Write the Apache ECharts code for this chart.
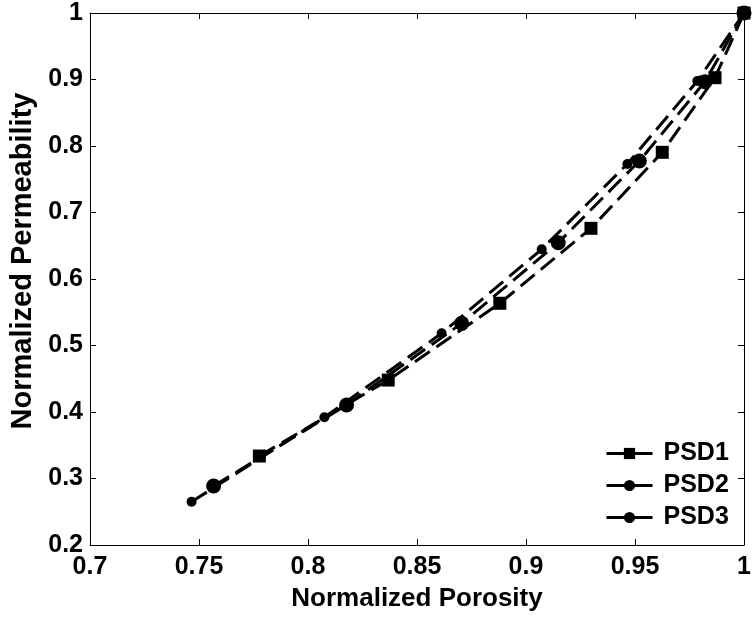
<!DOCTYPE html>
<html>
<head>
<meta charset="utf-8">
<script src="https://cdn.jsdelivr.net/npm/echarts@6/dist/echarts.min.js"></script>
<style>html,body{margin:0;padding:0;background:#fff}#c{width:754px;height:621px}</style>
</head>
<body>
<div id="c"></div>
<script>
var seriesNames = ['PSD1', 'PSD2', 'PSD3'];
var psd1Porosity = [0.7777, 0.8368, 0.8880, 0.9298, 0.9625, 0.9867, 1.0];
var psd1Perm     = [0.3338, 0.4480, 0.5635, 0.6762, 0.7905, 0.9027, 1.0];
var psd2Porosity = [0.7567, 0.8177, 0.8705, 0.9148, 0.9520, 0.9821, 1.0];
var psd2Perm     = [0.2887, 0.4105, 0.5333, 0.6546, 0.7774, 0.8967, 1.0];
var psd3Porosity = [0.7466, 0.8075, 0.8613, 0.9072, 0.9465, 0.9786, 1.0];
var psd3Perm     = [0.2650, 0.3920, 0.5183, 0.6447, 0.7730, 0.8977, 1.0];
var xTicks = [0.7, 0.75, 0.8, 0.85, 0.9, 0.95, 1];
var yTicks = [0.2, 0.3, 0.4, 0.5, 0.6, 0.7, 0.8, 0.9, 1];

function pairs(xs, ys) { return xs.map(function (x, i) { return [x, ys[i]]; }); }

var FONT = 'Liberation Sans, Arial, sans-serif';
var chart = echarts.init(document.getElementById('c'));
var axisCommon = {
  axisLine: { show: true, onZero: false, lineStyle: { color: '#000', width: 1 } },
  axisTick: { show: true, inside: true, length: 6, lineStyle: { color: '#000' } },
  splitLine: { show: false }
};
function lbl(v) { return String(+v.toFixed(2)); }
var option = {
  backgroundColor: '#fff',
  animation: false,
  grid: { left: 90, right: 10, top: 13, bottom: 76 },
  legend: {
    orient: 'vertical',
    left: 600, top: 436,
    itemWidth: 46, itemHeight: 14, itemGap: 7,
    data: seriesNames,
    lineStyle: { type: 'solid', width: 3 },
    textStyle: { fontFamily: FONT, fontSize: 25, fontWeight: 'bold', color: '#000', padding: [0, 0, 0, 6] }
  },
  xAxis: [
    Object.assign({}, axisCommon, {
      type: 'value', min: 0.7, max: 1, interval: 0.05, position: 'bottom',
      name: 'Normalized Porosity', nameLocation: 'middle', nameGap: 41,
      nameTextStyle: { fontFamily: FONT, fontSize: 26, fontWeight: 'bold', color: '#000' },
      axisLabel: { margin: 10, fontFamily: FONT, fontSize: 25, fontWeight: 'bold', color: '#000',
        formatter: function (v) { return lbl(v); } }
    }),
    Object.assign({}, axisCommon, {
      type: 'value', min: 0.7, max: 1, interval: 0.05, position: 'top',
      axisLabel: { show: false }
    })
  ],
  yAxis: [
    Object.assign({}, axisCommon, {
      type: 'value', min: 0.2, max: 1, interval: 0.1, position: 'left',
      name: 'Normalized Permeability', nameLocation: 'middle', nameGap: 49,
      nameTextStyle: { fontFamily: FONT, fontSize: 29, fontWeight: 'bold', color: '#000', padding: [0, 0, 0, 36] },
      axisLabel: { margin: 7, fontFamily: FONT, fontSize: 25, fontWeight: 'bold', color: '#000',
        formatter: function (v) { return lbl(v); } }
    }),
    Object.assign({}, axisCommon, {
      type: 'value', min: 0.2, max: 1, interval: 0.1, position: 'right',
      axisLabel: { show: false }
    })
  ],
  series: [
    { name: seriesNames[0], type: 'line', data: pairs(psd1Porosity, psd1Perm),
      symbol: 'rect', symbolSize: 13, itemStyle: { color: '#000' },
      lineStyle: { color: '#000', width: 3, type: [18, 8] }, z: 3 },
    { name: seriesNames[1], type: 'line', data: pairs(psd2Porosity, psd2Perm),
      symbol: 'circle', symbolSize: 15, itemStyle: { color: '#000' },
      lineStyle: { color: '#000', width: 3, type: [18, 8] }, z: 3 },
    { name: seriesNames[2], type: 'line', data: pairs(psd3Porosity, psd3Perm),
      symbol: 'circle', symbolSize: 10, itemStyle: { color: '#000' },
      lineStyle: { color: '#000', width: 3, type: [18, 8] }, z: 3 }
  ]
};
chart.setOption(option);
</script>
</body>
</html>
